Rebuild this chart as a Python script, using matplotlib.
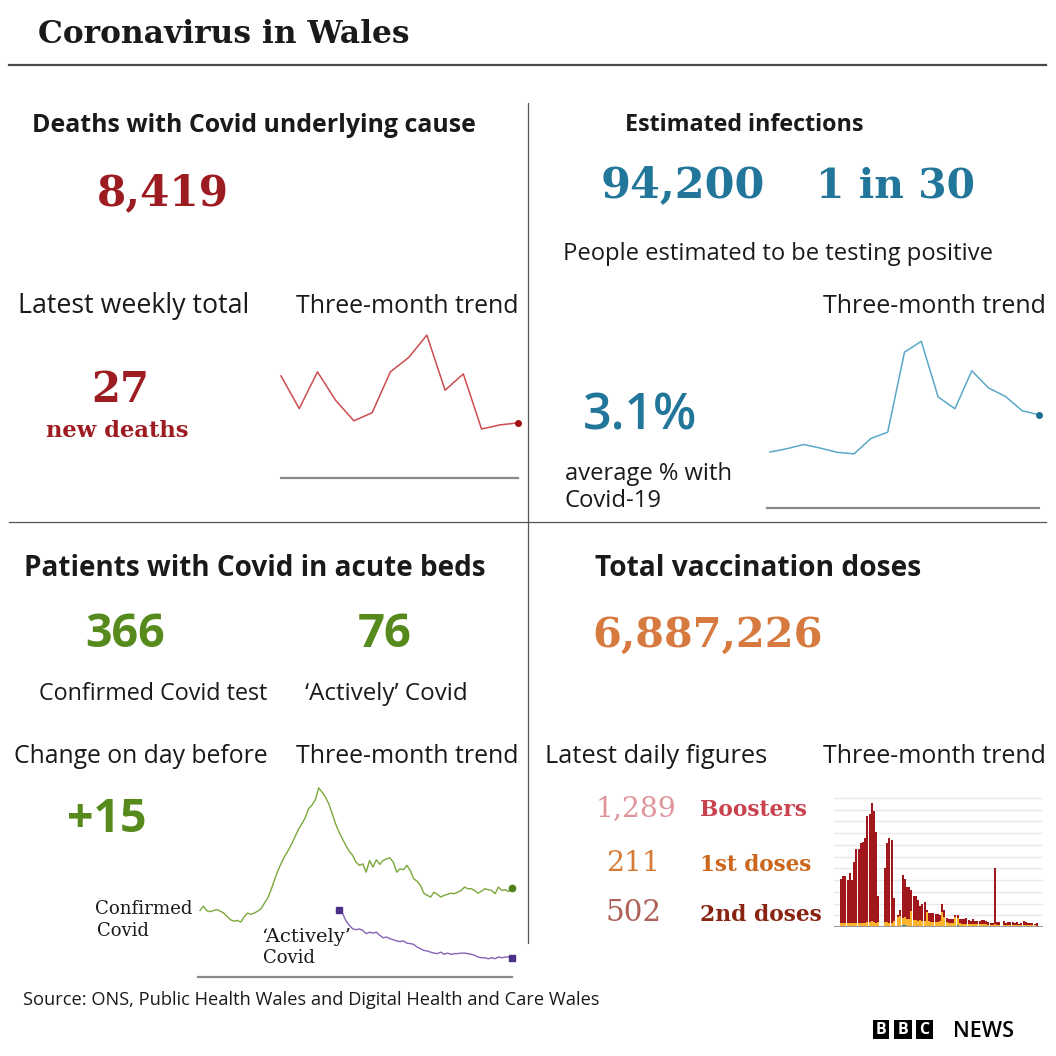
import matplotlib
matplotlib.use("Agg")
import matplotlib.pyplot as plt
from matplotlib.lines import Line2D
from matplotlib.patches import Rectangle
import numpy as np

# ---------------- data ----------------
deaths_total = "8,419"
deaths_week = "27"
deaths_trend = [50, 34, 52, 38, 28, 32, 52, 59, 70, 43, 51, 24, 26, 27]

infections_total = "94,200"
infections_ratio = "1 in 30"
infections_pct = "3.1%"
infections_trend = [1.86, 1.97, 2.11, 1.99, 1.85, 1.80, 2.31, 2.52, 5.18, 5.54,
                    3.69, 3.30, 4.56, 3.99, 3.71, 3.23, 3.1]

patients_confirmed = "366"
patients_active = "76"
patients_change = "+15"
confirmed_trend = [273, 290, 272, 268, 273, 276, 270, 262, 248, 235,
                   229, 232, 225, 246, 262, 257, 262, 270, 280, 303,
                   325, 359, 400, 437, 468, 496, 519, 545, 575, 605,
                   628, 652, 690, 705, 727, 776,
                   758, 738, 710, 669, 628, 594, 567, 540, 516, 499,
                   471, 458, 464, 430, 478, 451, 481, 462, 478, 485,
                   489, 471, 430, 444, 440, 458, 437, 403, 393, 376,
                   344, 335, 328, 348, 339, 328, 335, 339, 344, 342,
                   348, 355, 369, 362, 362, 355, 344, 352, 362, 358,
                   355, 342, 369, 355, 358, 351, 366]
active_trend = [276, 262, 232, 212, 198, 194, 197, 191, 178, 184,
                180, 184, 171, 161, 164, 157, 153, 148, 145, 148,
                139, 137, 134, 123, 116, 109, 107, 102, 98, 96,
                102, 93, 98, 93, 96, 96, 98, 98, 96, 93,
                89, 82, 79, 79, 75, 79, 75, 82, 79, 82,
                82, 76]

vacc_total = "6,887,226"
vacc_latest = ["1,289", "211", "502"]
vacc_labels = ["Boosters", "1st doses", "2nd doses"]
# daily doses, thousands
boosters = [22.4, 24.1, 24.3, 22.0, 25.4, 22.0, 31.1, 37.7, 37.7, 40.8,
            41.4, 43.1, 54.2, 55.2, 60.7, 56.9, 46.5, 13.1, 0, 0,
            27.8, 40.2, 43.1, 42.3, 12.1, 0, 1.0, 2.8, 22.2, 19.8,
            16.4, 16.4, 10.4, 11.9, 11.9, 10.4, 6.8, 8.3, 9.5, 1.1,
            3.9, 4.4, 4.4, 4.0, 3.7, 2.7, 4.5, 3.9, 2.4, 2.3,
            2.3, 2.3, 1.2, 1.7, 2.3, 2.6, 2.6, 2.9, 2.1, 1.8,
            2.6, 1.6, 1.6, 1.6, 2.3, 2.3, 1.8, 1.4, 0.9, 0.9,
            29.1, 1.4, 1.4, 0.2, 1.7, 1.1, 1.4, 1.4, 1.4, 1.1,
            1.2, 0.7, 1.2, 1.7, 1.4, 1.1, 1.1, 1.2, 0.7, 1.289]
second_doses = [1.4, 1.4, 1.5, 1.4, 1.5, 1.4, 1.7, 1.5, 1.5, 1.5,
                1.7, 1.7, 2.1, 2.1, 2.4, 2.1, 1.7, 2.1, 0, 0,
                2.1, 2.1, 1.7, 1.7, 2.4, 0, 4.3, 5.1, 3.4, 3.8,
                3.4, 3.4, 7.7, 3.1, 3.1, 2.6, 3.1, 2.6, 2.6, 6.8,
                2.6, 2.1, 2.1, 2.1, 2.1, 2.6, 6.8, 4.3, 2.1, 1.7,
                1.7, 1.7, 4.8, 3.4, 1.7, 1.4, 1.4, 1.4, 1.0, 1.0,
                1.4, 1.0, 1.0, 1.0, 1.2, 1.2, 1.0, 0.9, 0.9, 0.9,
                1.0, 0.9, 0.9, 0.2, 0.9, 0.7, 0.9, 0.7, 0.9, 0.7,
                0.9, 0.7, 0.7, 0.9, 0.7, 0.7, 0.7, 0.7, 0.7, 0.502]
first_doses = [0.5, 0.5, 0.5, 0.5, 0.5, 0.5, 0.5, 0.5, 0.5, 0.5,
               0.5, 0.5, 0.5, 0.5, 0.5, 0.5, 0.5, 0.5, 0, 0,
               0.5, 0.5, 0.5, 0.5, 0.5, 0, 0.7, 0.7, 1.2, 1.2,
               0.7, 0.7, 0.7, 0.7, 0.7, 0.7, 0.7, 0.7, 0.7, 0.7,
               0.7, 0.7, 0.7, 0.7, 0.7, 0.7, 0.7, 0.7, 0.3, 0.3,
               0.3, 0.3, 0.3, 1.2, 0.3, 0.3, 0.3, 0.3, 0.3, 0.3,
               0.3, 0.3, 0.3, 0.3, 0.3, 0.3, 0.3, 0.3, 0.3, 0.3,
               0.3, 0.3, 0.3, 0.1, 0.3, 0.3, 0.3, 0.3, 0.3, 0.3,
               0.3, 0.3, 0.3, 0.3, 0.3, 0.3, 0.3, 0.3, 0.3, 0.211]

# ---------------- styles ----------------
W = H = 1056
SANS = ["Open Sans", "DejaVu Sans"]
SERIF = ["DejaVu Serif"]
INK = "#1a1a1a"
RED = "#9d1c21"
BLUE = "#21769a"
GREEN = "#578a1c"
ORANGE = "#d67a40"
SG = 1.08  # serif digits of the substitute font are wider than the original

fig = plt.figure(figsize=(W / 100, H / 100), dpi=100)
fig.patch.set_facecolor("white")
renderer = fig.canvas.get_renderer()


def fx(x):
    return x / W


def fy(y):
    return 1 - y / H


def put(s, x0, x1, yb, color=INK, family=SANS, weight="normal", grow=1.0):
    t = fig.text(fx(x0), fy(yb), s, fontsize=20, family=family, weight=weight,
                 color=color, va="baseline", ha="left")
    w = t.get_window_extent(renderer).width
    t.set_fontsize(20 * (x1 - x0) / w * grow)
    if grow != 1.0:
        w2 = t.get_window_extent(renderer).width
        t.set_x(fx((x0 + x1) / 2 - w2 / 2))
    return t


def hline(y, x0, x1, color="#555555", lw=1.0):
    fig.add_artist(Line2D([fx(x0), fx(x1)], [fy(y), fy(y)],
                          transform=fig.transFigure, color=color, lw=lw))


def vline(x, y0, y1, color="#555555", lw=1.0):
    fig.add_artist(Line2D([fx(x), fx(x)], [fy(y0), fy(y1)],
                          transform=fig.transFigure, color=color, lw=lw))


def axes_px(x0, y0, x1, y1):
    ax = fig.add_axes([x0 / W, 1 - y1 / H, (x1 - x0) / W, (y1 - y0) / H])
    ax.set_facecolor("none")
    return ax


# ---------------- frame ----------------
put("Coronavirus in Wales", 38, 410, 43, family=SERIF, weight="bold")
hline(64.5, 9, 1046, color="#4a4a4a", lw=1.6)
vline(528, 103, 943, color="#555555", lw=0.9)
hline(522, 9, 1046, color="#555555", lw=0.9)

# ---------------- deaths ----------------
put("Deaths with Covid underlying cause", 32, 476, 132, weight="bold")
put(deaths_total, 102, 224, 205, color=RED, family=SERIF, weight="bold", grow=SG)
put("Latest weekly total", 18, 249, 313)
put("Three-month trend", 296, 518, 313)
put(deaths_week, 93, 147, 402, color=RED, family=SERIF, weight="bold", grow=SG)
put("new deaths", 47, 187, 437, color=RED, family=SERIF, weight="bold", grow=1.02)

ax = axes_px(281, 330, 518, 478)
xd = np.arange(len(deaths_trend))
ax.plot(xd, deaths_trend, color="#cc4d50", lw=1.1, clip_on=False)
ax.plot(xd[-1], deaths_trend[-1], "o", color="#a30f12", ms=4, clip_on=False)
ax.axhline(0, color="#8a8a8a", lw=1.6, clip_on=False)
ax.set_xlim(0, len(deaths_trend) - 1)
ax.set_ylim(0, 72.5)
ax.axis("off")

# ---------------- infections ----------------
put("Estimated infections", 625, 864, 131, weight="bold")
put(infections_total, 607, 759, 197, color=BLUE, family=SERIF, weight="bold", grow=SG)
put(infections_ratio, 822, 969, 197, color=BLUE, family=SERIF, weight="bold", grow=SG)
put("People estimated to be testing positive", 563, 990, 260)
put("Three-month trend", 823, 1046, 313)
put(infections_pct, 583, 697, 430, color=BLUE, weight="semibold")
put("average % with", 565, 732, 480)
put("Covid-19", 565, 662, 507)

ax = axes_px(770, 335, 1039, 508)
xi = np.arange(len(infections_trend))
ax.plot(xi, infections_trend, color="#5aa8c6", lw=1.1, clip_on=False)
ax.plot(xi[-1], infections_trend[-1], "o", color="#1a6f8f", ms=4, clip_on=False)
ax.plot([-0.2, len(infections_trend) - 1], [0, 0], color="#8a8a8a", lw=1.6, clip_on=False)
ax.set_xlim(0, len(infections_trend) - 1)
ax.set_ylim(0, 5.75)
ax.axis("off")

# ---------------- patients ----------------
put("Patients with Covid in acute beds", 24, 486, 576, weight="bold")
put(patients_confirmed, 85, 165, 647, color=GREEN, weight="bold")
put(patients_active, 358, 412, 647, color=GREEN, weight="bold")
put("Confirmed Covid test", 39, 268, 700)
put("\u2018Actively\u2019 Covid", 305, 467, 700)
put("Change on day before", 14, 267, 763)
put("Three-month trend", 296, 518, 763)
put(patients_change, 67, 147, 832, color=GREEN, weight="bold")

ax = axes_px(200, 782, 512, 977)
n = len(confirmed_trend)
xc = np.arange(n)
xa = np.arange(n - len(active_trend), n)
ax.plot(xc, confirmed_trend, color="#7aa83a", lw=1.0, clip_on=False)
ax.plot(xc[-1], confirmed_trend[-1], "o", color="#4f7f17", ms=4.5, clip_on=False)
ax.plot(xa, active_trend, color="#8663b5", lw=1.0, clip_on=False)
ax.plot([xa[0], xa[-1]], [active_trend[0], active_trend[-1]], "s",
        color="#4c2f86", ms=4, clip_on=False)
ax.plot([-0.6, n - 1], [0, 0], color="#8a8a8a", lw=1.6, clip_on=False)
ax.set_xlim(0, n - 1)
ax.set_ylim(0, 800)
ax.axis("off")

put("Confirmed", 99, 189, 914, family=SERIF, grow=SG)
put("Covid", 99, 147, 936, family=SERIF, grow=SG)
put("\u2018Actively\u2019", 265, 347, 942, family=SERIF, grow=SG)
put("Covid", 265, 313, 963, family=SERIF, grow=SG)

# ---------------- vaccinations ----------------
put("Total vaccination doses", 595, 921, 576, weight="bold")
put(vacc_total, 597, 819, 647, color=ORANGE, family=SERIF, weight="bold", grow=1.04)
put("Latest daily figures", 545, 767, 763)
put("Three-month trend", 823, 1046, 763)

num_cols = ["#e0959c", "#d67b36", "#ad6157"]
lab_cols = ["#c8434e", "#cb661c", "#8a2412"]
num_x = [(598, 673), (608, 658), (608, 660)]
lab_x = [(700, 807), (700, 812), (700, 822)]
ybs = [816, 871, 921]
for i in range(3):
    put(vacc_latest[i], num_x[i][0], num_x[i][1], ybs[i], color=num_cols[i],
        family=SERIF, grow=SG)
    put(vacc_labels[i], lab_x[i][0], lab_x[i][1], ybs[i], color=lab_cols[i],
        family=SERIF, weight="bold")

ax = axes_px(834, 796, 1043, 927)
xv = np.arange(len(boosters))
b1 = np.array(first_doses)
b2 = np.array(second_doses)
b3 = np.array(boosters)
ax.bar(xv, b1, width=0.92, color="#1f80ad", linewidth=0)
ax.bar(xv, b2, width=0.92, bottom=b1, color="#fbb42c", linewidth=0)
ax.bar(xv, b3, width=0.92, bottom=b1 + b2, color="#a1181c", linewidth=0)
ax.set_xlim(-3.2, 91.8)
ax.set_ylim(0, 67)
ax.set_yticks(np.arange(6, 67, 6))
ax.yaxis.grid(True, color="#e8e8e8", lw=1.0)
ax.set_axisbelow(True)
ax.tick_params(left=False, bottom=False, labelleft=False, labelbottom=False)
for s in ax.spines.values():
    s.set_visible(False)
ax.axhline(0, color="#999999", lw=1.5)

# ---------------- footer ----------------
put("Source: ONS, Public Health Wales and Digital Health and Care Wales", 23, 598, 1005)

for (x0, x1), letter in zip([(873, 889), (894, 911.5), (916, 933)], ["B", "B", "C"]):
    fig.add_artist(Rectangle((fx(x0), fy(1038.5)), (x1 - x0) / W, 18.5 / H,
                             transform=fig.transFigure, color="black", lw=0))
    fig.text(fx((x0 + x1) / 2), fy(1029.5), letter, color="white", fontsize=11.5,
             family=SANS, weight="bold", ha="center", va="center")
put("NEWS", 953, 1014, 1037, color="black", weight="semibold")

fig.savefig("out.png", dpi=100, facecolor="white")
